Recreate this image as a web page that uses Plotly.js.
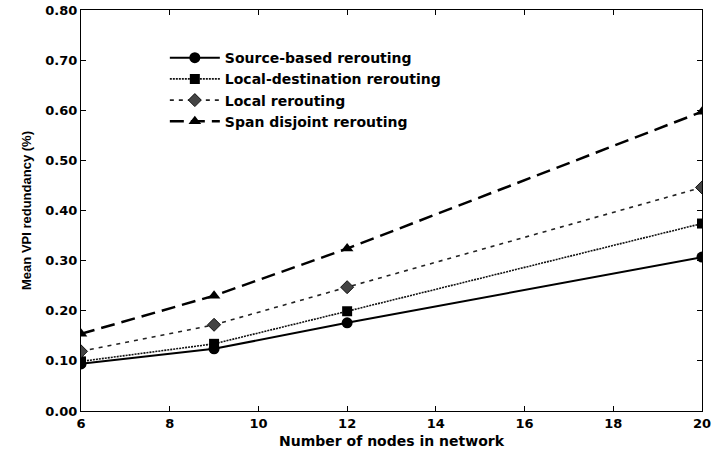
<!DOCTYPE html>
<html>
<head>
<meta charset="utf-8">
<script src="https://cdn.plot.ly/plotly-3.0.1.min.js"></script>
<style>html,body{margin:0;padding:0;background:#fff}#chart{width:714px;height:457px}</style>
</head>
<body>
<div id="chart"></div>
<script>
const nodes = [6, 9, 12, 20];
const sourceBased = [0.094, 0.124, 0.176, 0.307];
const localDestination = [0.099, 0.134, 0.199, 0.374];
const localRerouting = [0.119, 0.172, 0.247, 0.446];
const spanDisjoint = [0.154, 0.230, 0.324, 0.597];
const seriesNames = ["Source-based rerouting", "Local-destination rerouting", "Local rerouting", "Span disjoint rerouting"];
const xTicks = [6, 8, 10, 12, 14, 16, 18, 20];
const yTicks = [0, 0.1, 0.2, 0.3, 0.4, 0.5, 0.6, 0.7, 0.8];
const yTickText = yTicks.map(v => v.toFixed(2));

const traces = [
  {x: nodes, y: sourceBased, name: seriesNames[0], mode: 'lines+markers',
   line: {color: '#000', width: 2, dash: 'solid'},
   marker: {symbol: 'circle', size: 11, color: '#000'}},
  {x: nodes, y: localDestination, name: seriesNames[1], mode: 'lines+markers',
   line: {color: '#111', width: 1.6, dash: '2px,1px'},
   marker: {symbol: 'square', size: 10, color: '#000'}},
  {x: nodes, y: localRerouting, name: seriesNames[2], mode: 'lines+markers',
   line: {color: '#222', width: 1.6, dash: '4px,5px'},
   marker: {symbol: 'diamond', size: 10, color: '#444', line: {color: '#111', width: 1}}},
  {x: nodes, y: spanDisjoint, name: seriesNames[3], mode: 'lines+markers',
   line: {color: '#000', width: 2.5, dash: '14px,7px'},
   marker: {symbol: 'triangle-up', size: 11, color: '#000'}}
];

const tickFont = {family: 'DejaVu Sans', size: 13, color: '#000', weight: 'bold'};
const layout = {
  width: 714, height: 457,
  margin: {l: 81, r: 12, t: 10, b: 46},
  paper_bgcolor: '#fff', plot_bgcolor: '#fff',
  showlegend: true,
  legend: {x: 0.135, y: 0.92, xanchor: 'left', yanchor: 'top', bgcolor: 'rgba(0,0,0,0)',
           font: {family: 'DejaVu Sans', size: 14, color: '#000', weight: 'bold'}, itemwidth: 50},
  xaxis: {range: [6, 20], tickvals: xTicks, ticktext: xTicks.map(String),
          showgrid: false, zeroline: false, showline: true, linecolor: '#000', linewidth: 1,
          mirror: 'ticks', ticks: 'inside', ticklen: 5, tickcolor: '#000',
          tickfont: tickFont,
          title: {text: 'Number of nodes in network', standoff: 6,
                  font: {family: 'DejaVu Sans', size: 14, color: '#000', weight: 'bold'}}},
  yaxis: {range: [0, 0.8], tickvals: yTicks, ticktext: yTickText,
          showgrid: false, zeroline: false, showline: true, linecolor: '#000', linewidth: 1,
          mirror: 'ticks', ticks: 'inside', ticklen: 5, tickcolor: '#000',
          tickfont: tickFont,
          title: {text: 'Mean VPI redundancy (%)', standoff: 10,
                  font: {family: 'Liberation Sans', size: 13, color: '#000', weight: 'bold'}}}
};

Plotly.newPlot('chart', traces, layout, {displayModeBar: false, staticPlot: true});
</script>
</body>
</html>
